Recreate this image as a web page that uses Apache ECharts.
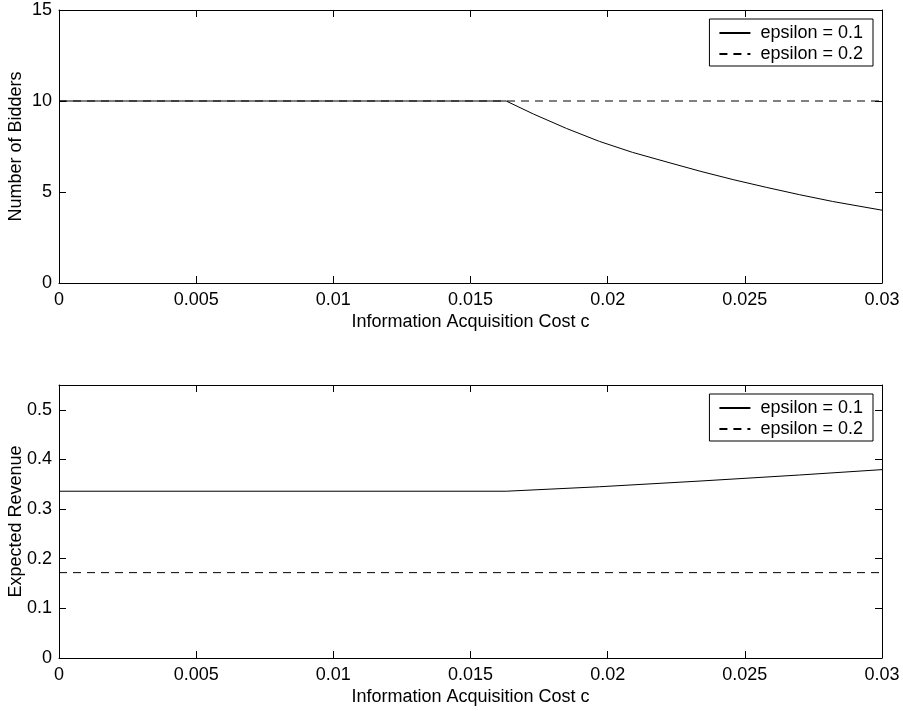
<!DOCTYPE html>
<html>
<head>
<meta charset="utf-8">
<script src="https://cdn.jsdelivr.net/npm/echarts@6/dist/echarts.min.js"></script>
<style>html,body{margin:0;padding:0;background:#fff}#c{width:903px;height:711px}</style>
</head>
<body>
<div id="c"></div>
<script>
// ---- data ----
const cTop = [0, 0.0163, 0.0173, 0.0185, 0.0197, 0.0209, 0.0222, 0.0234, 0.0246, 0.0258, 0.027, 0.0282, 0.03];
const biddersEps1 = [10, 10, 9.28, 8.49, 7.78, 7.18, 6.63, 6.13, 5.67, 5.25, 4.85, 4.48, 4.0];
const cTopEps2 = [0, 0.03];
const biddersEps2 = [10, 10];
const cBot = [0, 0.0163, 0.0197, 0.0234, 0.027, 0.03];
const revenueEps1 = [0.336, 0.336, 0.345, 0.3566, 0.3687, 0.3795];
const cBotEps2 = [0, 0.03];
const revenueEps2 = [0.172, 0.172];
const seriesNames = ['epsilon = 0.1', 'epsilon = 0.2'];
const xTitle = 'Information Acquisition Cost c';
const yTitleTop = 'Number of Bidders';
const yTitleBot = 'Expected Revenue';

const zip = (xs, ys) => xs.map((x, i) => [x, ys[i]]);
const FONT = "'Liberation Sans', Arial, Helvetica, sans-serif";
const FS = 18;
const black = '#000';

function xAxes(gi) {
  return [{
    type: 'value', gridIndex: gi, position: 'bottom', min: 0, max: 0.03, interval: 0.005,
    name: xTitle, nameLocation: 'middle', nameGap: 30, nameMoveOverlap: false,
    nameTextStyle: {fontFamily: FONT, fontSize: FS, color: black},
    axisLine: {show: true, onZero: false, lineStyle: {color: black, width: 1}},
    axisTick: {show: true, inside: true, length: 7, lineStyle: {color: black}},
    axisLabel: {fontFamily: FONT, fontSize: FS, color: black, margin: 8,
      formatter: v => String(+v.toFixed(4))},
    splitLine: {show: false}
  }, {
    type: 'value', gridIndex: gi, position: 'top', min: 0, max: 0.03, interval: 0.005,
    axisLine: {show: true, onZero: false, lineStyle: {color: black, width: 1}},
    axisTick: {show: true, inside: true, length: 7, lineStyle: {color: black}},
    axisLabel: {show: false}, splitLine: {show: false}
  }];
}
function yAxes(gi, max, interval, name) {
  return [{
    type: 'value', gridIndex: gi, position: 'left', min: 0, max: max, interval: interval,
    name: name, nameLocation: 'middle', nameGap: 34, nameMoveOverlap: false,
    nameTextStyle: {fontFamily: FONT, fontSize: FS, color: black},
    axisLine: {show: true, onZero: false, lineStyle: {color: black, width: 1}},
    axisTick: {show: true, inside: true, length: 7, lineStyle: {color: black}},
    axisLabel: {fontFamily: FONT, fontSize: FS, color: black, margin: 7, showMaxLabel: max === 15,
      formatter: v => String(+v.toFixed(4))},
    splitLine: {show: false}
  }, {
    type: 'value', gridIndex: gi, position: 'right', min: 0, max: max, interval: interval,
    axisLine: {show: true, onZero: false, lineStyle: {color: black, width: 1}},
    axisTick: {show: true, inside: true, length: 7, lineStyle: {color: black}},
    axisLabel: {show: false}, splitLine: {show: false}
  }];
}
function legend(top) {
  return {
    data: seriesNames, orient: 'vertical', right: 30, top: top,
    backgroundColor: '#fff', borderColor: black, borderWidth: 1,
    padding: [5, 10, 3, 9], itemGap: 3, itemWidth: 31, itemHeight: 14,
    itemStyle: {opacity: 0},
    textStyle: {fontFamily: FONT, fontSize: FS, color: black, padding: [0, 0, 0, 5]},
    selectedMode: false
  };
}
function line(name, data, xi, yi, dashed, z) {
  return {
    name: name, type: 'line', xAxisIndex: xi, yAxisIndex: yi, data: data,
    symbol: 'none', smooth: false, animation: false, z: z,
    lineStyle: {color: black, width: 1, type: dashed ? [8, 6] : 'solid'},
    itemStyle: {color: black}
  };
}

const chart = echarts.init(document.getElementById('c'), null, {renderer: 'canvas'});
chart.setOption({
  animation: false,
  backgroundColor: '#fff',
  grid: [
    {left: 59, right: 21, top: 10, height: 273, containLabel: false, outerBoundsMode: 'none'},
    {left: 59, right: 21, top: 385, height: 273, containLabel: false, outerBoundsMode: 'none'}
  ],
  xAxis: [...xAxes(0), ...xAxes(1)],
  yAxis: [...yAxes(0, 15, 5, yTitleTop), ...yAxes(1, 0.55, 0.1, yTitleBot)],
  legend: [legend(19), legend(394)],
  series: [
    line(seriesNames[1], zip(cTopEps2, biddersEps2), 0, 0, true, 2),
    line(seriesNames[0], zip(cTop, biddersEps1), 0, 0, false, 3),
    line(seriesNames[0], zip(cBot, revenueEps1), 2, 2, false, 3),
    line(seriesNames[1], zip(cBotEps2, revenueEps2), 2, 2, true, 2)
  ]
});
</script>
</body>
</html>
